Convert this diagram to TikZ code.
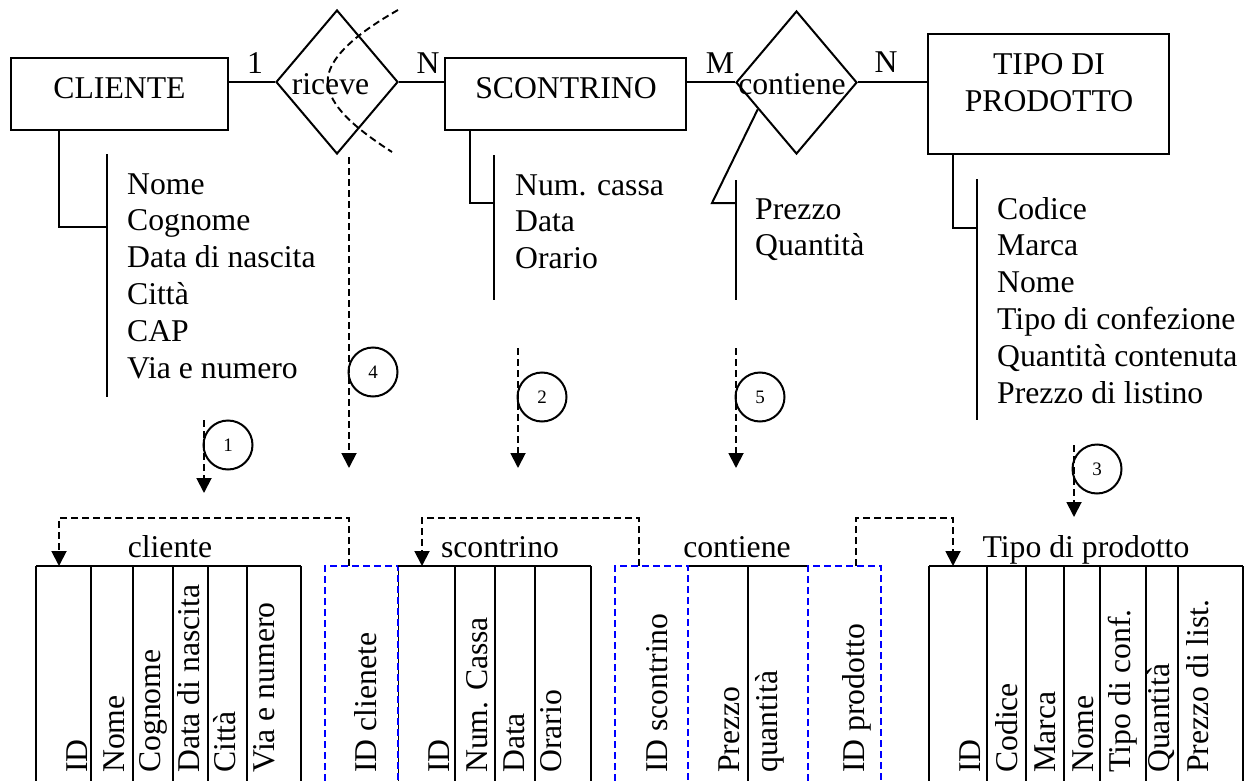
\documentclass[tikz,border=0pt]{standalone}
\usepackage{fontspec}
\setmainfont{Liberation Serif}
\usetikzlibrary{shapes.geometric,arrows.meta,calc}
\begin{document}
\begin{tikzpicture}[x=1pt,y=-1pt,
  every node/.style={inner sep=0pt},
  lw/.style={line width=2pt},
  big/.style={font=\fontsize{31.7}{36.8}\selectfont},
  entity/.style={draw,line width=2pt,rectangle},
  rel/.style={draw,line width=2pt,diamond},
  attr/.style={big,anchor=base west},
  lbl/.style={big,anchor=base},
  rot/.style={big,rotate=90,anchor=base west},
  dashln/.style={line width=1.9pt,dash pattern=on 7pt off 4pt},
  dasharrow/.style={dashln,-{Triangle[width=15pt,length=15pt]}},
  bluedash/.style={draw=blue,line width=1.9pt,dash pattern=on 7pt off 4pt},
  num/.style={circle,draw,line width=2pt,minimum size=49pt,font=\fontsize{19}{22}\selectfont},
]
\useasboundingbox (0,0) rectangle (1247,781);

% ---------- ER part ----------
\node[entity,minimum width=217pt,minimum height=72pt] (cliente) at (119.5,94) {};
\node[lbl] (clienteT) at (119.5,99) {CLIENTE};
\node[rel,minimum width=122pt,minimum height=144pt] (riceve) at (337,82) {};
\node[lbl] (riceveT) at (330.5,95) {riceve};
\node[entity,minimum width=241pt,minimum height=72pt] (scontrino) at (565.5,94) {};
\node[lbl] (scontrinoT) at (566,99) {SCONTRINO};
\node[rel,minimum width=121pt,minimum height=143pt] (contiene) at (796.5,82.5) {};
\node[lbl] (contieneT) at (792,95) {contiene};
\node[entity,minimum width=241pt,minimum height=120pt] (tipo) at (1048.5,94) {};
\node[lbl] (tipoT1) at (1049,75) {TIPO DI};
\node[lbl] (tipoT2) at (1049,112) {PRODOTTO};

\draw[lw] (cliente.east |- riceve.west) -- (riceve.west);
\draw[lw] (riceve.east) -- (scontrino.west |- riceve.east);
\draw[lw] (scontrino.east |- contiene.west) -- (contiene.west);
\draw[lw] (contiene.east) -- (tipo.west |- contiene.east);

\node[lbl] (card1) at (255,74) {1};
\node[lbl] (card2) at (428,74) {N};
\node[lbl] (card3) at (720,74) {M};
\node[lbl] (card4) at (886,73) {N};

% dashed cut across riceve
\draw[dashln] (398,10) .. controls (345,40) and (325,65) .. (328,85)
              .. controls (331,105) and (350,125) .. (392,152);

% attributes of CLIENTE
\coordinate (cA) at (59,227);
\coordinate (cB1) at (107,154);
\coordinate (cB2) at (107,397);
\draw[lw] (cliente.south -| cA) |- (cB1 |- cA);
\draw[lw] (cB1) -- (cB2);
\foreach \t [count=\i] in {Nome,Cognome,Data di nascita,Città,CAP,Via e numero}
  \node[attr] (ca\i) at (127,{194+36.8*(\i-1)}) {\t};

% attributes of SCONTRINO
\coordinate (sA) at (470,203);
\coordinate (sB1) at (494,155);
\coordinate (sB2) at (494,300);
\draw[lw] (scontrino.south -| sA) |- (sB1 |- sA);
\draw[lw] (sB1) -- (sB2);
\foreach \t [count=\i] in {Num. cassa,Data,Orario}
  \node[attr] (sa\i) at (515,{195+36.8*(\i-1)}) {\t};

% attributes of contiene
\coordinate (kA) at (712,203);
\coordinate (kB1) at (736,180);
\coordinate (kB2) at (736,300);
\draw[lw] ($(contiene.west)!0.37!(contiene.south)$) -- (kA) -- (kB1 |- kA);
\draw[lw] (kB1) -- (kB2);
\foreach \t [count=\i] in {Prezzo,Quantità}
  \node[attr] (ka\i) at (755,{219+36.8*(\i-1)}) {\t};

% attributes of TIPO DI PRODOTTO
\coordinate (tA) at (953,228);
\coordinate (tB1) at (977,179);
\coordinate (tB2) at (977,420);
\draw[lw] (tipo.south -| tA) |- (tB1 |- tA);
\draw[lw] (tB1) -- (tB2);
\foreach \t [count=\i] in {Codice,Marca,Nome,Tipo di confezione,Quantità contenuta,Prezzo di listino}
  \node[attr] (ta\i) at (997,{219+36.8*(\i-1)}) {\t};

% ---------- numbered arrows ----------
\coordinate (a1s) at (204,420); \coordinate (a1e) at (204,493);
\coordinate (a4s) at (349,157); \coordinate (a4e) at (349,468);
\coordinate (a2s) at (518,348); \coordinate (a2e) at (518,468);
\coordinate (a5s) at (736,348); \coordinate (a5e) at (736,468);
\coordinate (a3s) at (1074,445); \coordinate (a3e) at (1074,517);
\draw[dasharrow] (a1s) -- (a1e);
\draw[dasharrow] (a4s) -- (a4e);
\draw[dasharrow] (a2s) -- (a2e);
\draw[dasharrow] (a5s) -- (a5e);
\draw[dasharrow] (a3s) -- (a3e);
\node[num] (n1) at (228,445) {\raisebox{-3pt}{1}};
\node[num] (n4) at (373,372) {\raisebox{-3pt}{4}};
\node[num] (n2) at (542,397) {\raisebox{-3pt}{2}};
\node[num] (n5) at (760,397) {\raisebox{-3pt}{5}};
\node[num] (n3) at (1097,469) {\raisebox{-3pt}{3}};

% ---------- tables ----------
% cliente
\draw[lw] (36,566) -- (301,566);
\foreach \x in {36,91,133,173,208,247,301} \draw[lw] (\x,566) -- (\x,781);
% ID clienete
\draw[line width=0.8pt] (398,566) -- (398,781);
\draw[bluedash] (325,781) -- (325,566) -- (398,566) -- (398,781);
% scontrino
\draw[lw] (398,566) -- (591,566);
\foreach \x in {455,495,535,591} \draw[lw] (\x,566) -- (\x,781);
% contiene
\draw[lw] (688,566) -- (808,566);
\draw[lw] (748,566) -- (748,781);
\draw[bluedash] (615,781) -- (615,566) -- (688,566) -- (688,781);
\draw[bluedash] (808,781) -- (808,566) -- (881,566) -- (881,781);
% Tipo di prodotto
\draw[lw] (929,566) -- (1243,566);
\foreach \x in {929,987,1026,1064,1100,1146,1178,1243} \draw[lw] (\x,566) -- (\x,781);

% table titles
\node[lbl] (tt1) at (170,557) {cliente};
\node[lbl] (tt2) at (500,557) {scontrino};
\node[lbl] (tt3) at (737,557) {contiene};
\node[lbl] (tt4) at (1086,557) {Tipo di prodotto};

% column texts
\node[rot] (c1) at (87,773) {ID};
\node[rot] (c2) at (124,773) {Nome};
\node[rot] (c3) at (160,773) {Cognome};
\node[rot] (c4) at (199,773) {Data di nascita};
\node[rot] (c5) at (235,773) {Città};
\node[rot] (c6) at (274,773) {Via e numero};
\node[rot] (c7) at (376,773) {ID clienete};
\node[rot] (s1) at (449,773) {ID};
\node[rot] (s2) at (487,773) {Num. Cassa};
\node[rot] (s3) at (524,773) {Data};
\node[rot] (s4) at (561,773) {Orario};
\node[rot] (k1) at (667,773) {ID scontrino};
\node[rot] (k2) at (739,773) {Prezzo};
\node[rot] (k3) at (777,773) {quantità};
\node[rot] (k4) at (864,773) {ID prodotto};
\node[rot] (p1) at (980,773) {ID};
\node[rot] (p2) at (1017,773) {Codice};
\node[rot] (p3) at (1055,773) {Marca};
\node[rot] (p4) at (1093,773) {Nome};
\node[rot] (p5) at (1130,773) {Tipo di conf.};
\node[rot] (p6) at (1169,773) {Quantità};
\node[rot] (p7) at (1208,773) {Prezzo di list.};

% foreign key arrows
\coordinate (fk1) at (349,566); \coordinate (pk1) at (59,566);
\coordinate (fk2) at (639,566); \coordinate (pk2) at (422,566);
\coordinate (fk3) at (856,566); \coordinate (pk3) at (953,566);
\draw[dasharrow] (fk1) -- ++(0,-48) -| (pk1);
\draw[dasharrow] (fk2) -- ++(0,-48) -| (pk2);
\draw[dasharrow] (fk3) -- ++(0,-48) -| (pk3);
\end{tikzpicture}
\end{document}
